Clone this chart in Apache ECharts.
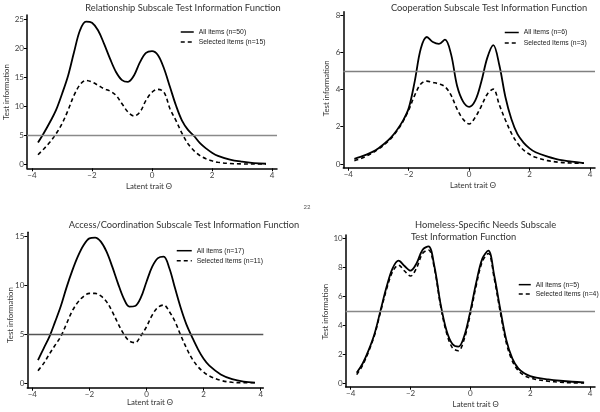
<!DOCTYPE html>
<html><head><meta charset="utf-8">
<script src="https://cdn.jsdelivr.net/npm/echarts@6/dist/echarts.min.js"></script>
<style>html,body{margin:0;padding:0;background:#fff}#c{width:600px;height:412px}</style>
</head><body><div id="c"></div>
<script>
// Latent trait grid
const theta = [-3.8,-3.6,-3.4,-3.2,-3.0,-2.8,-2.6,-2.4,-2.2,-2.0,-1.8,-1.6,-1.4,-1.2,-1.0,-0.8,-0.6,-0.4,-0.2,0,0.2,0.4,0.6,0.8,1.0,1.2,1.4,1.6,1.8,2.0,2.2,2.6,3.0,3.4,3.8];
// Relationship subscale
const relAll = [3.7,5.4,7.25,9.3,12.1,15.2,19.3,23.1,24.6,24.4,23.1,20.8,18.2,15.9,14.5,14.2,15.3,17.6,19.2,19.5,18.8,16.5,13.3,10.1,7.5,5.9,4.85,3.6,2.7,1.95,1.4,0.75,0.4,0.17,0.05];
const relSel = [1.6,2.65,3.8,5.2,6.96,9.27,11.86,13.7,14.45,14.16,13.6,13.0,12.6,11.86,10.4,8.98,8.3,9.0,11.0,12.4,12.9,12.4,9.55,7.5,5.3,3.5,2.3,1.45,0.92,0.55,0.3,0.08,0.02,0.0,0.0];
// Cooperation subscale
const coopAll = [0.28,0.38,0.5,0.65,0.85,1.1,1.4,1.8,2.3,3.0,4.45,6.2,6.82,6.55,6.45,6.68,5.9,4.2,3.35,3.07,3.4,4.4,5.7,6.38,5.3,3.6,2.4,1.6,1.15,0.84,0.63,0.4,0.22,0.13,0.04];
const coopSel = [0.18,0.28,0.42,0.6,0.8,1.05,1.35,1.75,2.25,2.9,3.7,4.3,4.45,4.38,4.3,4.15,3.7,2.95,2.4,2.15,2.5,3.1,3.75,4.02,3.17,2.36,1.65,1.11,0.75,0.52,0.36,0.18,0.09,0.05,0.04];
// Access/Coordination subscale
const accAll = [2.38,3.58,4.77,6.3,7.9,9.81,11.52,13.0,14.14,14.82,14.9,14.48,13.46,11.93,10.22,8.69,7.84,7.9,8.75,10.39,11.93,12.8,12.95,11.76,9.71,7.7,6.0,4.7,3.5,2.5,1.8,0.9,0.42,0.17,0.07];
const accSel = [1.29,2.04,3.0,3.9,4.8,6.1,7.4,8.3,8.9,9.2,9.2,8.93,8.35,7.33,6.13,5.04,4.33,4.15,4.84,5.79,6.98,7.77,8.0,7.33,6.3,4.9,3.6,2.5,1.7,1.15,0.75,0.3,0.1,0.05,0.05];
// Homeless-specific needs subscale
const homAll = [0.73,1.37,2.29,3.44,5.05,6.66,7.93,8.46,8.09,7.77,8.27,9.2,9.45,8.04,5.51,3.67,2.71,2.53,3.3,5.0,7.0,8.6,9.15,7.4,5.1,3.0,1.72,1.03,0.69,0.5,0.39,0.27,0.18,0.11,0.06];
const homSel = [0.6,1.25,2.2,3.35,4.95,6.5,7.7,8.15,7.75,7.4,7.95,8.95,9.2,7.9,5.4,3.5,2.45,2.25,3.1,4.8,6.8,8.4,8.95,7.2,4.9,2.8,1.55,0.88,0.55,0.37,0.27,0.15,0.08,0.04,0.02];

const xTicks = [-4,-2,0,2,4];
const yTicks = [[0,5,10,15,20,25],[0,2,4,6,8],[0,5,10,15],[0,2,4,6,8,10]];
const cutoff = 5;
const titles = ['Relationship Subscale Test Information Function','Cooperation Subscale Test Information Function','Access/Coordination Subscale Test Information Function','Homeless-Specific Needs Subscale','Test Information Function'];
const legendNames = [['All items (n=50)','Selected Items (n=15)'],['All items (n=6)','Selected Items (n=3)'],['All items (n=17)','Selected Items (n=11)'],['All items (n=5)','Selected Items (n=4)']];
const seriesData = [[relAll,relSel],[coopAll,coopSel],[accAll,accSel],[homAll,homSel]];

const panels = [
  {grid:{left:27,top:15,width:250,height:153.3}, x:[-4.167,4.167], y:[-0.74,25.74], hl:'#8a8a8a',
   leg:{left:180,top:27,w:13,h:10}, yname:[6,92], xname:[149,186]},
  {grid:{left:343.3,top:11.7,width:251.7,height:156}, x:[-4.166,4.166], y:[-0.2,8.18], hl:'#808080',
   leg:{left:504,top:27.3,w:14,h:10.4}, yname:[326.7,88.3], xname:[473,185]},
  {grid:{left:27.3,top:232.3,width:236,height:155.4}, x:[-4.175,4.09], y:[-0.45,15.44], hl:'#555555',
   leg:{left:176,top:245.7,w:15,h:10}, yname:[10,315], xname:[150,402.7]},
  {grid:{left:345.7,top:235,width:249.3,height:151.7}, x:[-4.167,4.165], y:[-0.23,10.23], hl:'#888888',
   leg:{left:518,top:280,w:12,h:9.3}, yname:[325,311.7], xname:[475.7,404]}
];

const minus = v => String(v).replace('-', '\u2212');
const tickFont = {fontSize:8, color:'#444', fontFamily:'Lato, sans-serif'};
const grids=[], xAxes=[], yAxes=[], series=[], legends=[], graphics=[];
panels.forEach((p,i)=>{
  grids.push(p.grid);
  xAxes.push({type:'value', gridIndex:i, min:p.x[0], max:p.x[1],
    axisLine:{onZero:false, lineStyle:{color:'#000', width:1.5}},
    axisTick:{show:true, length:3, customValues:xTicks, lineStyle:{color:'#000'}},
    axisLabel:{customValues:xTicks, margin:3, formatter:minus, ...tickFont},
    splitLine:{show:false}});
  yAxes.push({type:'value', gridIndex:i, min:p.y[0], max:p.y[1],
    axisLine:{show:true, onZero:false, lineStyle:{color:'#000', width:1.5}},
    axisTick:{show:true, length:3, customValues:yTicks[i], lineStyle:{color:'#000'}},
    axisLabel:{customValues:yTicks[i], margin:3, ...tickFont},
    splitLine:{show:false}});
  const [all, sel] = seriesData[i];
  series.push({name:legendNames[i][0], type:'line', xAxisIndex:i, yAxisIndex:i, smooth:0.35, symbol:'none',
    data: theta.map((t,k)=>[t, all[k]]), lineStyle:{color:'#000', width:1.8}, itemStyle:{color:'#000'}, z:3,
    markLine:{silent:true, symbol:'none', label:{show:false}, animation:false,
      lineStyle:{color:p.hl, width:1.3, type:'solid'}, data:[{yAxis:cutoff}]}});
  series.push({name:legendNames[i][1], type:'line', xAxisIndex:i, yAxisIndex:i, smooth:0.35, symbol:'none',
    data: theta.map((t,k)=>[t, sel[k]]), lineStyle:{color:'#000', width:1.6, type:[4,3]}, itemStyle:{color:'#000'}, z:3});
  legends.push({data:legendNames[i], left:p.leg.left, top:p.leg.top, orient:'vertical', padding:0,
    itemWidth:p.leg.w, itemHeight:p.leg.h, itemGap:0, selectedMode:false,
    itemStyle:{opacity:0},
    lineStyle:{width:1.5},
    textStyle:{fontSize:6.8, color:'#222', fontFamily:"'Liberation Sans', sans-serif", lineHeight:p.leg.h}});
  graphics.push({type:'text', x:p.yname[0], y:p.yname[1], rotation:Math.PI/2,
    style:{text:'Test information', fontSize:7.8, fill:'#333', align:'center', verticalAlign:'middle', fontFamily:'Lato, sans-serif'}});
  graphics.push({type:'text', x:p.xname[0], y:p.xname[1],
    style:{text:'Latent trait \u0398', fontSize:7.8, fill:'#333', align:'center', verticalAlign:'middle', fontFamily:'Lato, sans-serif'}});
});
const tFont = {fontSize:9.3, fill:'#333', fontFamily:'Lato, sans-serif', verticalAlign:'middle'};
graphics.push({type:'text', x:183, y:8.3, style:{text:titles[0], align:'center', ...tFont}});
graphics.push({type:'text', x:489, y:8.3, style:{text:titles[1], align:'center', ...tFont}});
graphics.push({type:'text', x:184, y:225, style:{text:titles[2], align:'center', ...tFont}});
graphics.push({type:'text', x:415, y:225, style:{text:titles[3], align:'left', ...tFont}});
graphics.push({type:'text', x:411, y:236.7, style:{text:titles[4], align:'left', ...tFont}});
graphics.push({type:'text', x:307, y:207, style:{text:'22', fontSize:6, fill:'#555', align:'center', verticalAlign:'middle', fontFamily:'Lato, sans-serif'}});

const chart = echarts.init(document.getElementById('c'), null, {renderer:'canvas'});
chart.setOption({animation:false, grid:grids, xAxis:xAxes, yAxis:yAxes, series, legend:legends, graphic:graphics});
</script></body></html>
